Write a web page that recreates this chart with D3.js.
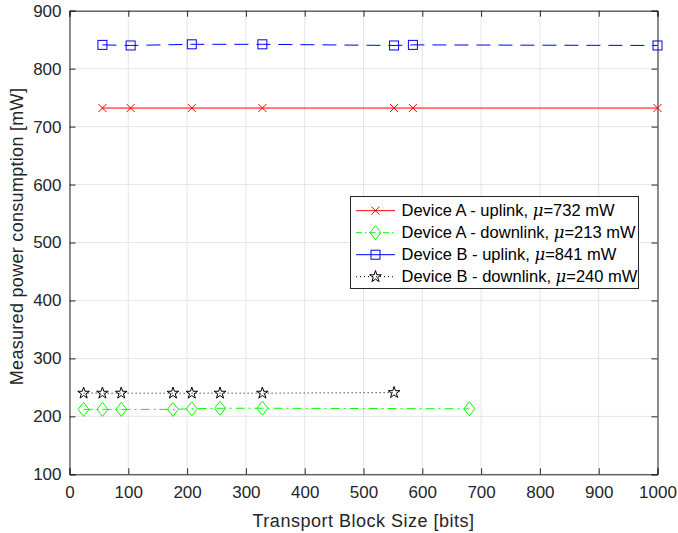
<!DOCTYPE html>
<html><head><meta charset="utf-8">
<script src="https://cdn.jsdelivr.net/npm/d3@7"></script>
<style>body{margin:0;background:#fff}svg{display:block;font-family:"Liberation Sans",Arial,sans-serif}</style>
</head><body>
<svg id="c" width="678" height="533"></svg>
<script>
const xTicks = [0,100,200,300,400,500,600,700,800,900,1000];
const yTicks = [100,200,300,400,500,600,700,800,900];
const aUpX = [56,104,208,328,552,584,1000];
const aUpY = [732,732,732,732,732,732,732];
const aDownX = [24,56,88,176,208,256,328,680];
const aDownY = [212,212,212,212,213,214,214,213];
const bUpX = [56,104,208,328,552,584,1000];
const bUpY = [841,840,842,842,840,841,840];
const bDownX = [24,56,88,176,208,256,328,552];
const bDownY = [240,240,240,240,240,240,240,241];
const names = ["Device A - uplink, ","Device A - downlink, ","Device B - uplink, ","Device B - downlink, "];
const means = ["=732 mW","=213 mW","=841 mW","=240 mW"];

const svg = d3.select("#c");
const L=69.5,R=657.5,T=10.7,B=474.3;
const x = d3.scaleLinear().domain([0,1000]).range([L,R]);
const y = d3.scaleLinear().domain([100,900]).range([B,T]);
const axc="#262626";
svg.append("g").selectAll("line").data(xTicks).join("line")
  .attr("x1",d=>x(d)).attr("x2",d=>x(d)).attr("y1",T).attr("y2",B).attr("stroke","#e6e6e6");
svg.append("g").selectAll("line").data(yTicks).join("line")
  .attr("y1",d=>y(d)).attr("y2",d=>y(d)).attr("x1",L).attr("x2",R).attr("stroke","#e6e6e6");
const fs=17;
const fmt=d3.format("d");
svg.append("g").attr("transform",`translate(0,${B})`).call(d3.axisBottom(x).tickValues(xTicks).tickSize(-6).tickPadding(12).tickFormat(fmt));
svg.append("g").attr("transform",`translate(${L},0)`).call(d3.axisLeft(y).tickValues(yTicks).tickSize(-6).tickPadding(8).tickFormat(fmt));
svg.append("g").attr("transform",`translate(0,${T})`).call(d3.axisTop(x).tickValues(xTicks).tickSize(-6).tickFormat(""));
svg.append("g").attr("transform",`translate(${R},0)`).call(d3.axisRight(y).tickValues(yTicks).tickSize(-6).tickFormat(""));
svg.selectAll(".domain,.tick line").attr("stroke",axc);
svg.selectAll(".tick text").attr("fill",axc).style("font-size",fs+"px").style("font-family",'"Liberation Sans",Arial,sans-serif');
svg.append("text").attr("x",(L+R)/2).attr("y",526.5).attr("text-anchor","middle").attr("fill",axc).style("font-size","18px").style("letter-spacing","0.5px").text("Transport Block Size [bits]");
svg.append("text").attr("transform",`translate(23,${(T+B)/2-6}) rotate(-90)`).attr("text-anchor","middle").attr("fill",axc).style("font-size","18px").style("letter-spacing","0.3px").text("Measured power consumption [mW]");

const series=[
 {xs:aDownX,ys:aDownY,c:"#00ff00",dash:"9,4,2,4",m:"diamond"},
 {xs:bDownX,ys:bDownY,c:"#000000",dash:"1,3",m:"star"},
 {xs:aUpX,ys:aUpY,c:"#ff0000",dash:null,m:"x"},
 {xs:bUpX,ys:bUpY,c:"#0000ff",dash:"14,8",m:"square"}
];
function marker(g,type,c){
  if(type==="x") g.append("path").attr("d","M-4,-4L4,4M-4,4L4,-4").attr("stroke",c).attr("fill","none");
  if(type==="square") g.append("rect").attr("x",-4.5).attr("y",-4.5).attr("width",9).attr("height",9).attr("stroke",c).attr("fill","none");
  if(type==="diamond") g.append("path").attr("d","M0,-7L5.5,0L0,7L-5.5,0Z").attr("stroke",c).attr("fill","none");
  if(type==="star") g.append("path").attr("d",d3.symbol(d3.symbolStar,42)()).attr("stroke",c).attr("fill","none");
}
const line=d3.line().x(d=>x(d[0])).y(d=>y(d[1]));
series.forEach(s=>{
  const pts=s.xs.map((v,i)=>[v,s.ys[i]]);
  svg.append("path").attr("d",line(pts)).attr("fill","none").attr("stroke",s.c).attr("stroke-width",1).attr("stroke-dasharray",s.dash);
  pts.forEach(p=>{const g=svg.append("g").attr("transform",`translate(${x(p[0])},${y(p[1])})`);marker(g,s.m,s.c);});
});
const leg=[{c:"#ff0000",dash:null,m:"x"},{c:"#00ff00",dash:"6,3,1.5,3",m:"diamond"},{c:"#0000ff",dash:null,m:"square"},{c:"#000000",dash:"1,3",m:"star"}];
svg.append("rect").attr("x",350.5).attr("y",196.5).attr("width",288).attr("height",92).attr("fill","#fff").attr("stroke",axc);
leg.forEach((l,i)=>{
  const cy=210.7+i*22;
  svg.append("line").attr("x1",356).attr("x2",395).attr("y1",cy).attr("y2",cy).attr("stroke",l.c).attr("stroke-dasharray",l.dash);
  const g=svg.append("g").attr("transform",`translate(375.5,${cy})`);marker(g,l.m,l.c);
  const t=svg.append("text").attr("x",401.5).attr("y",cy+5.5).attr("fill","#000").style("font-size","16.5px");
  t.append("tspan").text(names[i]);
  t.append("tspan").attr("font-family","'DejaVu Serif',serif").style("font-style","italic").text("μ");
  t.append("tspan").text(means[i]);
});
</script></body></html>
